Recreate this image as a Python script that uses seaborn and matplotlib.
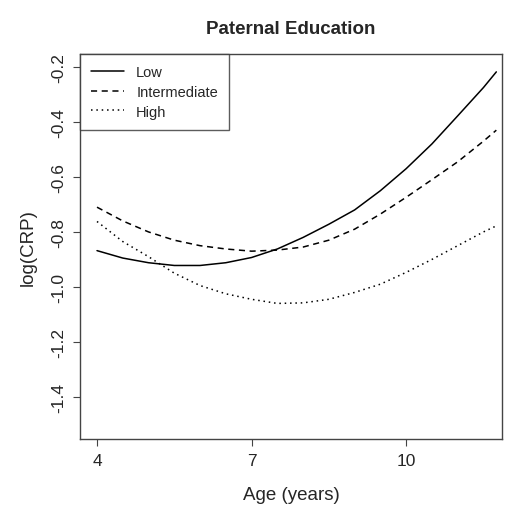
import pandas as pd
import seaborn as sns
import matplotlib.pyplot as plt

# values
age = [4, 4.5, 5, 5.5, 6, 6.5, 7, 7.5, 8, 8.5, 9, 9.5, 10, 10.5, 11, 11.5, 11.75]
low = [-0.868, -0.895, -0.912, -0.922, -0.922, -0.912, -0.893, -0.862, -0.82,
       -0.772, -0.72, -0.65, -0.57, -0.48, -0.378, -0.275, -0.218]
intermediate = [-0.71, -0.76, -0.80, -0.83, -0.85, -0.862, -0.87, -0.866, -0.855,
                -0.83, -0.79, -0.735, -0.674, -0.61, -0.545, -0.47, -0.43]
high = [-0.762, -0.835, -0.89, -0.95, -0.995, -1.025, -1.045, -1.06, -1.058,
        -1.045, -1.02, -0.99, -0.947, -0.90, -0.85, -0.80, -0.778]

groups = ["Low", "Intermediate", "High"]
yticks = [-0.2, -0.4, -0.6, -0.8, -1.0, -1.2, -1.4]
xticks = [4, 7, 10]

df = pd.DataFrame({"age": age, "Low": low, "Intermediate": intermediate, "High": high})
long = df.melt(id_vars="age", value_vars=groups, var_name="group", value_name="crp")

sns.set_style("ticks")
plt.rcParams["font.family"] = ["Liberation Sans", "DejaVu Sans"]

fig = plt.figure(figsize=(5.08, 5.06), dpi=100)
ax = fig.add_axes([80 / 508, 1 - 440 / 506, 422 / 508, 385 / 506])

sns.lineplot(data=long, x="age", y="crp", style="group", style_order=groups,
             dashes={"Low": "", "Intermediate": (4, 3), "High": (1, 2.5)},
             color="black", linewidth=1.1, ax=ax)

ax.set_xlim(3.67, 11.86)
ax.set_ylim(-1.553, -0.153)
ax.set_xticks(xticks)
ax.set_xticklabels([str(t) for t in xticks])
ax.set_yticks(yticks)
ax.set_yticklabels([f"{t:.1f}" for t in yticks], rotation=90, va="center")
ax.tick_params(axis="both", length=5, width=0.8, color="#444", labelsize=12.5, pad=5)

for s in ax.spines.values():
    s.set_color("#444")
    s.set_linewidth(1.0)

ax.set_title("Paternal Education", fontsize=13.5, fontweight="bold", pad=15)
ax.set_xlabel("Age (years)", fontsize=13.5, labelpad=13)
ax.set_ylabel("log(CRP)", fontsize=13.5, labelpad=10)

leg = ax.legend(loc="upper left", frameon=True, fancybox=False, borderaxespad=0,
                fontsize=10.5, handlelength=2.3, handletextpad=0.8,
                borderpad=0.75, labelspacing=0.4)
leg.get_frame().set_edgecolor("#333")
leg.get_frame().set_linewidth(1.0)

fig.savefig("out.png", dpi=100)
